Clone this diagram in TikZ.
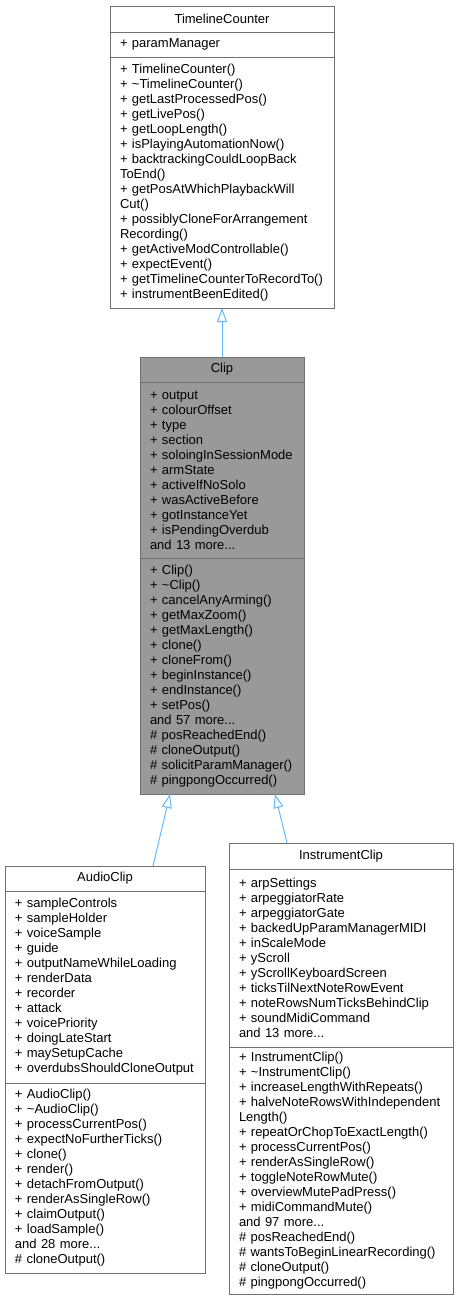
\documentclass[tikz,border=0pt]{standalone}
\usepackage{fontspec}
\setmainfont{Liberation Sans}
\usepackage{tikz}
\usetikzlibrary{arrows.meta,positioning,calc}
\definecolor{dxBorder}{HTML}{707070}
\definecolor{dxFocus}{HTML}{999999}
\definecolor{dxArrow}{HTML}{63B8FF}
\newcommand{\dxfont}{\fontsize{13}{15}\selectfont}
\tikzset{
    compartment/.style={
        draw=dxBorder,
        fill=white,
        rectangle,
        line width=1pt,
        align=left,
        inner xsep=10pt,
        inner ysep=0pt,
        outer sep=0pt,
        font=\dxfont
    },
    classname/.style={
        compartment,
        align=center
    },
    focus/.style={
        fill=dxFocus
    },
    inherit/.style={
        -{Triangle[open,length=14pt,width=10pt]},
        draw=dxArrow,
        line width=1pt
    }
}

\begin{document}
\begin{tikzpicture}[x=1pt,y=-1pt]
    \useasboundingbox (0,0) rectangle (459,1302);

    % TimelineCounter
    \node[classname, text width=204pt, minimum height=26pt, anchor=north west] (tcTitle) at (110,6) {TimelineCounter};
    \node[compartment, text width=204pt, minimum height=25pt, below=0pt of tcTitle] (tcAttr) {+~paramManager};
    \node[compartment, text width=204pt, minimum height=251pt, below=0pt of tcAttr] (tcOps) {%
        +~TimelineCounter()\\
        +~\textasciitilde TimelineCounter()\\
        +~getLastProcessedPos()\\
        +~getLivePos()\\
        +~getLoopLength()\\
        +~isPlayingAutomationNow()\\
        +~backtrackingCouldLoopBack\\
        ToEnd()\\
        +~getPosAtWhichPlaybackWill\\
        Cut()\\
        +~possiblyCloneForArrangement\\
        Recording()\\
        +~getActiveModControllable()\\
        +~expectEvent()\\
        +~getTimelineCounterToRecordTo()\\
        +~instrumentBeenEdited()};

    % Clip
    \node[classname, focus, text width=144pt, minimum height=25pt, anchor=north west] (clipTitle) at (140,357) {Clip};
    \node[compartment, focus, text width=144pt, minimum height=176pt, below=0pt of clipTitle] (clipAttr) {%
        +~output\\
        +~colourOffset\\
        +~type\\
        +~section\\
        +~soloingInSessionMode\\
        +~armState\\
        +~activeIfNoSolo\\
        +~wasActiveBefore\\
        +~gotInstanceYet\\
        +~isPendingOverdub\\
        and 13 more...};
    \node[compartment, focus, text width=144pt, minimum height=236pt, below=0pt of clipAttr] (clipOps) {%
        +~Clip()\\
        +~\textasciitilde Clip()\\
        +~cancelAnyArming()\\
        +~getMaxZoom()\\
        +~getMaxLength()\\
        +~clone()\\
        +~cloneFrom()\\
        +~beginInstance()\\
        +~endInstance()\\
        +~setPos()\\
        and 57 more...\\
        \#~posReachedEnd()\\
        \#~cloneOutput()\\
        \#~solicitParamManager()\\
        \#~pingpongOccurred()};

    % AudioClip
    \node[classname, text width=180pt, minimum height=25pt, anchor=north west] (audioTitle) at (5,866) {AudioClip};
    \node[compartment, text width=180pt, minimum height=192pt, below=0pt of audioTitle] (audioAttr) {%
        +~sampleControls\\
        +~sampleHolder\\
        +~voiceSample\\
        +~guide\\
        +~outputNameWhileLoading\\
        +~renderData\\
        +~recorder\\
        +~attack\\
        +~voicePriority\\
        +~doingLateStart\\
        +~maySetupCache\\
        +~overdubsShouldCloneOutput};
    \node[compartment, text width=180pt, minimum height=190pt, below=0pt of audioAttr] (audioOps) {%
        +~AudioClip()\\
        +~\textasciitilde AudioClip()\\
        +~processCurrentPos()\\
        +~expectNoFurtherTicks()\\
        +~clone()\\
        +~render()\\
        +~detachFromOutput()\\
        +~renderAsSingleRow()\\
        +~claimOutput()\\
        +~loadSample()\\
        and 28 more...\\
        \#~cloneOutput()};

    % InstrumentClip
    \node[classname, text width=204pt, minimum height=26pt, anchor=north west] (instTitle) at (229,843) {InstrumentClip};
    \node[compartment, text width=204pt, minimum height=178pt, below=0pt of instTitle] (instAttr) {%
        +~arpSettings\\
        +~arpeggiatorRate\\
        +~arpeggiatorGate\\
        +~backedUpParamManagerMIDI\\
        +~inScaleMode\\
        +~yScroll\\
        +~yScrollKeyboardScreen\\
        +~ticksTilNextNoteRowEvent\\
        +~noteRowsNumTicksBehindClip\\
        +~soundMidiCommand\\
        and 13 more...};
    \node[compartment, text width=204pt, minimum height=247pt, below=0pt of instAttr] (instOps) {%
        +~InstrumentClip()\\
        +~\textasciitilde InstrumentClip()\\
        +~increaseLengthWithRepeats()\\
        +~halveNoteRowsWithIndependent\\
        Length()\\
        +~repeatOrChopToExactLength()\\
        +~processCurrentPos()\\
        +~renderAsSingleRow()\\
        +~toggleNoteRowMute()\\
        +~overviewMutePadPress()\\
        +~midiCommandMute()\\
        and 97 more...\\
        \#~posReachedEnd()\\
        \#~wantsToBeginLinearRecording()\\
        \#~cloneOutput()\\
        \#~pingpongOccurred()};

    % Inheritance
    \draw[inherit] (clipTitle.north) -- (tcOps.south);
    \draw[inherit] ($(audioTitle.north west)+(148,0)$) -- ($(clipOps.south west)+(30,0)$);
    \draw[inherit] ($(instTitle.north west)+(58,0)$) -- ($(clipOps.south west)+(135,0)$);
\end{tikzpicture}
\end{document}
